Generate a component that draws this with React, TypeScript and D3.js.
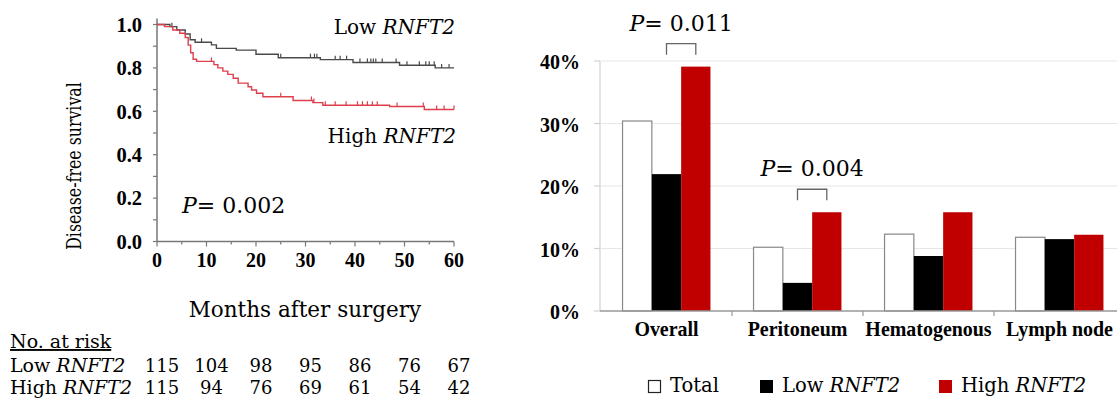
import React from "react";
import * as d3 from "d3";

// ---- Kaplan-Meier data ----
const monthTicks = [0, 10, 20, 30, 40, 50, 60];
const survTicks = [0, 0.2, 0.4, 0.6, 0.8, 1.0];
const lowSteps: [number, number][] = [
  [0, 1], [2.6, 0.99], [4, 0.975], [5.7, 0.956], [6.7, 0.93], [7.7, 0.918],
  [11, 0.906], [12, 0.89], [16, 0.882], [20, 0.863], [24.5, 0.847],
  [33, 0.838], [39.6, 0.825], [49, 0.812], [56.2, 0.8],
];
const highSteps: [number, number][] = [
  [0, 1], [1.5, 0.99], [3.2, 0.975], [4.6, 0.96], [5.7, 0.94], [6.3, 0.905],
  [6.8, 0.87], [7.3, 0.84], [8, 0.83], [11.5, 0.815], [12.3, 0.8],
  [13.3, 0.785], [14.3, 0.77], [15.4, 0.752], [16.4, 0.73], [18.4, 0.713],
  [19.1, 0.698], [20.1, 0.683], [21.4, 0.667], [27.5, 0.65], [31.5, 0.64],
  [33.5, 0.628], [47, 0.622], [54, 0.608],
];
const lowCensor = [3, 9, 25, 31, 31.8, 32.3, 36, 37, 38.3, 41, 42.5, 43.2, 43.7, 44.2, 45.5, 48.3, 50.5, 53, 54.3, 55, 56, 57.5, 59];
const highCensor = [11, 25, 31.2, 31.7, 34, 36, 38.2, 40.5, 41.5, 42.5, 43.5, 44.5, 48.5, 53.8, 56.5, 58, 60];
const riskLow = [115, 104, 98, 95, 86, 76, 67];
const riskHigh = [115, 94, 76, 69, 61, 54, 42];

// ---- recurrence bar data ----
const sites = ["Overall", "Peritoneum", "Hematogenous", "Lymph node"];
const groups = ["Total", "Low", "High"];
const totalPct = [30.4, 10.2, 12.3, 11.8];
const lowPct = [21.9, 4.5, 8.8, 11.5];
const highPct = [39.1, 15.8, 15.8, 12.2];
const pctTicks = [0, 10, 20, 30, 40];
const pSites = ["Overall", "Peritoneum"];
const pValues = ["0.011", "0.004"];

const SERIF = "'DejaVu Serif', serif";
const TIMES = "'Liberation Serif', serif";
const RED_KM = "#dd3f4b";
const RED_BAR = "#c00000";

const survAt = (steps: [number, number][], t: number) => {
  let s = 1;
  for (const [tt, ss] of steps) if (tt <= t) s = ss;
  return s;
};

const Gene = () => <tspan fontStyle="italic">RNFT2</tspan>;

export default function App() {
  // KM scales
  const x = d3.scaleLinear().domain([0, 60]).range([157, 454]);
  const y = d3.scaleLinear().domain([0, 1]).range([241.5, 24.5]);
  const line = d3
    .line<[number, number]>()
    .x((d) => x(d[0]))
    .y((d) => y(d[1]))
    .curve(d3.curveStepAfter);
  const full = (steps: [number, number][]) => [...steps, [60, steps[steps.length - 1][1]] as [number, number]];

  // bar scales
  const x0 = d3.scaleBand<string>().domain(sites).range([601, 1125]);
  const x1 = d3.scaleBand<string>().domain(groups).range([0, x0.bandwidth()]).paddingOuter(0.735);
  const yb = d3.scaleLinear().domain([0, 40]).range([311, 61]);
  const series: Record<string, number[]> = { Total: totalPct, Low: lowPct, High: highPct };
  const fills: Record<string, string> = { Total: "#fff", Low: "#000", High: RED_BAR };

  return (
    <svg width={1117} height={398} style={{ position: "absolute", left: 0, top: 0, background: "#fff" }}>
      {/* ===== Kaplan-Meier panel ===== */}
      <g>
        {/* axes */}
        <line x1={x(0)} x2={x(0)} y1={y(1) - 6} y2={y(0)} stroke="#777" strokeWidth={1.5} />
        <line x1={x(0)} x2={x(60)} y1={y(0)} y2={y(0)} stroke="#777" strokeWidth={1.5} />
        {d3.range(0, 1.01, 0.1).map((v) => (
          <line key={"yt" + v} x1={x(0) - 4} x2={x(0)} y1={y(v)} y2={y(v)} stroke="#777" strokeWidth={1.2} />
        ))}
        {d3.range(0, 61, 5).map((m) => (
          <line key={"xt" + m} x1={x(m)} x2={x(m)} y1={y(0)} y2={y(0) + (m % 10 === 0 ? 5 : 3)} stroke="#777" strokeWidth={1.2} />
        ))}
        {survTicks.map((v) => (
          <text key={"yl" + v} x={142} y={y(v)} dy="0.36em" textAnchor="end" fontFamily={TIMES} fontWeight="bold" fontSize={20.5}>
            {v.toFixed(1)}
          </text>
        ))}
        {monthTicks.map((m) => (
          <text key={"xl" + m} x={x(m)} y={267} textAnchor="middle" fontFamily={TIMES} fontWeight="bold" fontSize={20}>
            {m}
          </text>
        ))}
        <text transform="translate(81,166) rotate(-90) scale(0.81,1)" textAnchor="middle" fontFamily={SERIF} fontSize={19.5}>
          Disease-free survival
        </text>

        {/* curves */}
        <path d={line(full(lowSteps)) ?? ""} fill="none" stroke="#4a4a4a" strokeWidth={1.4} />
        <path d={line(full(highSteps)) ?? ""} fill="none" stroke={RED_KM} strokeWidth={1.4} />
        {lowCensor.map((t, i) => (
          <line key={"lc" + i} x1={x(t)} x2={x(t)} y1={y(survAt(lowSteps, t)) - 4} y2={y(survAt(lowSteps, t))} stroke="#4a4a4a" strokeWidth={1.2} />
        ))}
        {highCensor.map((t, i) => (
          <line key={"hc" + i} x1={x(t)} x2={x(t)} y1={y(survAt(highSteps, t)) - 4} y2={y(survAt(highSteps, t))} stroke={RED_KM} strokeWidth={1.2} />
        ))}

        <text x={455} y={34} textAnchor="end" fontFamily={SERIF} fontSize={20}>
          Low <Gene />
        </text>
        <text x={456} y={143} textAnchor="end" fontFamily={SERIF} fontSize={20}>
          High <Gene />
        </text>
        <text x={182} y={213} fontFamily={SERIF} fontSize={22}>
          <tspan fontStyle="italic">P</tspan>= 0.002
        </text>
        <text x={305} y={317} textAnchor="middle" fontFamily={SERIF} fontSize={21.5}>
          Months after surgery
        </text>

        {/* number at risk */}
        <text x={10} y={348} fontFamily={SERIF} fontSize={19} textDecoration="underline">
          No. at risk
        </text>
        <text x={10} y={372} fontFamily={SERIF} fontSize={19}>
          Low <Gene />
        </text>
        <text x={10} y={394} fontFamily={SERIF} fontSize={19}>
          High <Gene />
        </text>
        {riskLow.map((n, i) => (
          <text key={"rl" + i} x={x(monthTicks[i]) + 5} y={372} textAnchor="middle" fontFamily={SERIF} fontSize={18}>
            {n}
          </text>
        ))}
        {riskHigh.map((n, i) => (
          <text key={"rh" + i} x={x(monthTicks[i]) + 5} y={394} textAnchor="middle" fontFamily={SERIF} fontSize={18}>
            {n}
          </text>
        ))}
      </g>

      {/* ===== bar panel ===== */}
      <g>
        {pctTicks.filter((v) => v > 0).map((v) => (
          <line key={"g" + v} x1={x0.range()[0]} x2={1117} y1={yb(v)} y2={yb(v)} stroke="#e6e6e6" strokeWidth={1.2} />
        ))}
        <line x1={600} x2={600} y1={yb(40)} y2={yb(0)} stroke="#d0d0d0" strokeWidth={1.2} />
        {pctTicks.map((v) => (
          <line key={"bt" + v} x1={594} x2={600} y1={yb(v)} y2={yb(v)} stroke="#d0d0d0" strokeWidth={1.2} />
        ))}
        {pctTicks.map((v) => (
          <text key={"bl" + v} x={580} y={yb(v)} dy="0.4em" textAnchor="end" fontFamily={TIMES} fontWeight="bold" fontSize={20}>
            {v}%
          </text>
        ))}

        {sites.map((s, si) => (
          <g key={s} transform={`translate(${x0(s)},0)`}>
            {groups.map((g) => (
              <rect
                key={g}
                x={x1(g)}
                y={yb(series[g][si])}
                width={x1.bandwidth()}
                height={yb(0) - yb(series[g][si])}
                fill={fills[g]}
                stroke={g === "Total" ? "#888" : "none"}
                strokeWidth={1.2}
              />
            ))}
            <text
              transform={`translate(${x0.bandwidth() / 2},336) scale(0.95,1)`}
              textAnchor="middle"
              fontFamily={TIMES}
              fontWeight="bold"
              fontSize={21}
            >
              {s}
            </text>
          </g>
        ))}

        <line x1={600} x2={1117} y1={yb(0)} y2={yb(0)} stroke="#999" strokeWidth={1.3} />
        {sites.map((s) => (
          <line key={"st" + s} x1={(x0(s) ?? 0) + x0.bandwidth()} x2={(x0(s) ?? 0) + x0.bandwidth()} y1={yb(0)} y2={yb(0) + 5} stroke="#999" strokeWidth={1.2} />
        ))}

        {/* p-value brackets */}
        {pSites.map((s, i) => {
          const si = sites.indexOf(s);
          const a = (x0(s) ?? 0) + (x1("Low") ?? 0) + x1.bandwidth() / 2;
          const b = (x0(s) ?? 0) + (x1("High") ?? 0) + x1.bandwidth() / 2;
          const bot = yb(highPct[si]) - 12;
          const top = bot - 11;
          return (
            <g key={"p" + s}>
              <path d={`M${a},${bot}V${top}H${b}V${bot}`} fill="none" stroke="#666" strokeWidth={1.3} />
              <text x={(a + b) / 2} y={top - 13} textAnchor="middle" fontFamily={SERIF} fontSize={22}>
                <tspan fontStyle="italic">P</tspan>= {pValues[i]}
              </text>
            </g>
          );
        })}

        {/* legend */}
        <rect x={648.5} y={380.5} width={12} height={12} fill="#fff" stroke="#222" strokeWidth={1.2} />
        <text x={670} y={392} fontFamily={SERIF} fontSize={19.5}>Total</text>
        <rect x={760} y={380} width={13} height={13} fill="#000" />
        <text x={782} y={392} fontFamily={SERIF} fontSize={19.5}>
          Low <Gene />
        </text>
        <rect x={939} y={380} width={13} height={13} fill={RED_BAR} />
        <text x={961} y={392} fontFamily={SERIF} fontSize={19.5}>
          High <Gene />
        </text>
      </g>
    </svg>
  );
}
